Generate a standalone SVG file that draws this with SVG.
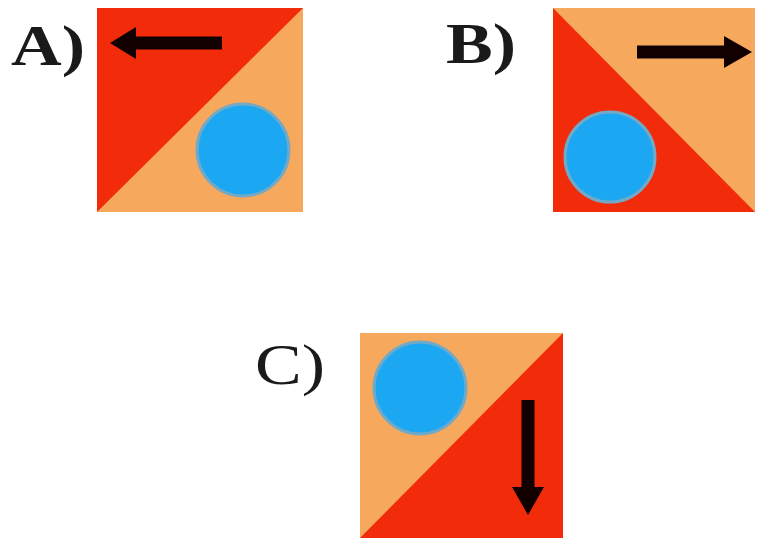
<svg xmlns="http://www.w3.org/2000/svg" width="759" height="547" viewBox="0 0 759 547">
<style>
.red{fill:#f22c0a}
.org{fill:#f6a95c}
.dot{fill:#1ca7f3;stroke:#72a9c6;stroke-width:3}
.arr{stroke:#120000;stroke-width:13;fill:none}
.head{fill:#120000}
.lbl{font-family:"Liberation Serif","Times New Roman",serif;font-size:58px;fill:#1a1a1a}
.b{font-weight:bold}
</style>
<rect width="759" height="547" fill="#ffffff"/>
<g id="A">
<text class="lbl b" x="11" y="65" textLength="74" lengthAdjust="spacingAndGlyphs">A)</text>
<rect class="org" x="97" y="8" width="206" height="204"/>
<polygon class="red" points="97,8 303,8 97,212"/>
<circle class="dot" cx="243" cy="150" r="46"/>
<line class="arr" x1="222" y1="43" x2="128" y2="43"/>
<polygon class="head" points="110,43 136,27 136,59"/>
</g>
<g id="B">
<text class="lbl b" x="446" y="63" textLength="70" lengthAdjust="spacingAndGlyphs">B)</text>
<rect class="org" x="553" y="8" width="202" height="204"/>
<polygon class="red" points="553,8 755,212 553,212"/>
<circle class="dot" cx="610" cy="157" r="45"/>
<line class="arr" x1="637" y1="52" x2="728" y2="52"/>
<polygon class="head" points="752,52 724,36 724,68"/>
</g>
<g id="C">
<text class="lbl" x="255" y="384" textLength="70" lengthAdjust="spacingAndGlyphs">C)</text>
<rect class="org" x="360" y="333" width="203" height="205"/>
<polygon class="red" points="563,333 563,538 360,538"/>
<circle class="dot" cx="420" cy="388" r="46"/>
<line class="arr" x1="528" y1="400" x2="528" y2="490"/>
<polygon class="head" points="528,515 512,487 544,487"/>
</g>
</svg>
